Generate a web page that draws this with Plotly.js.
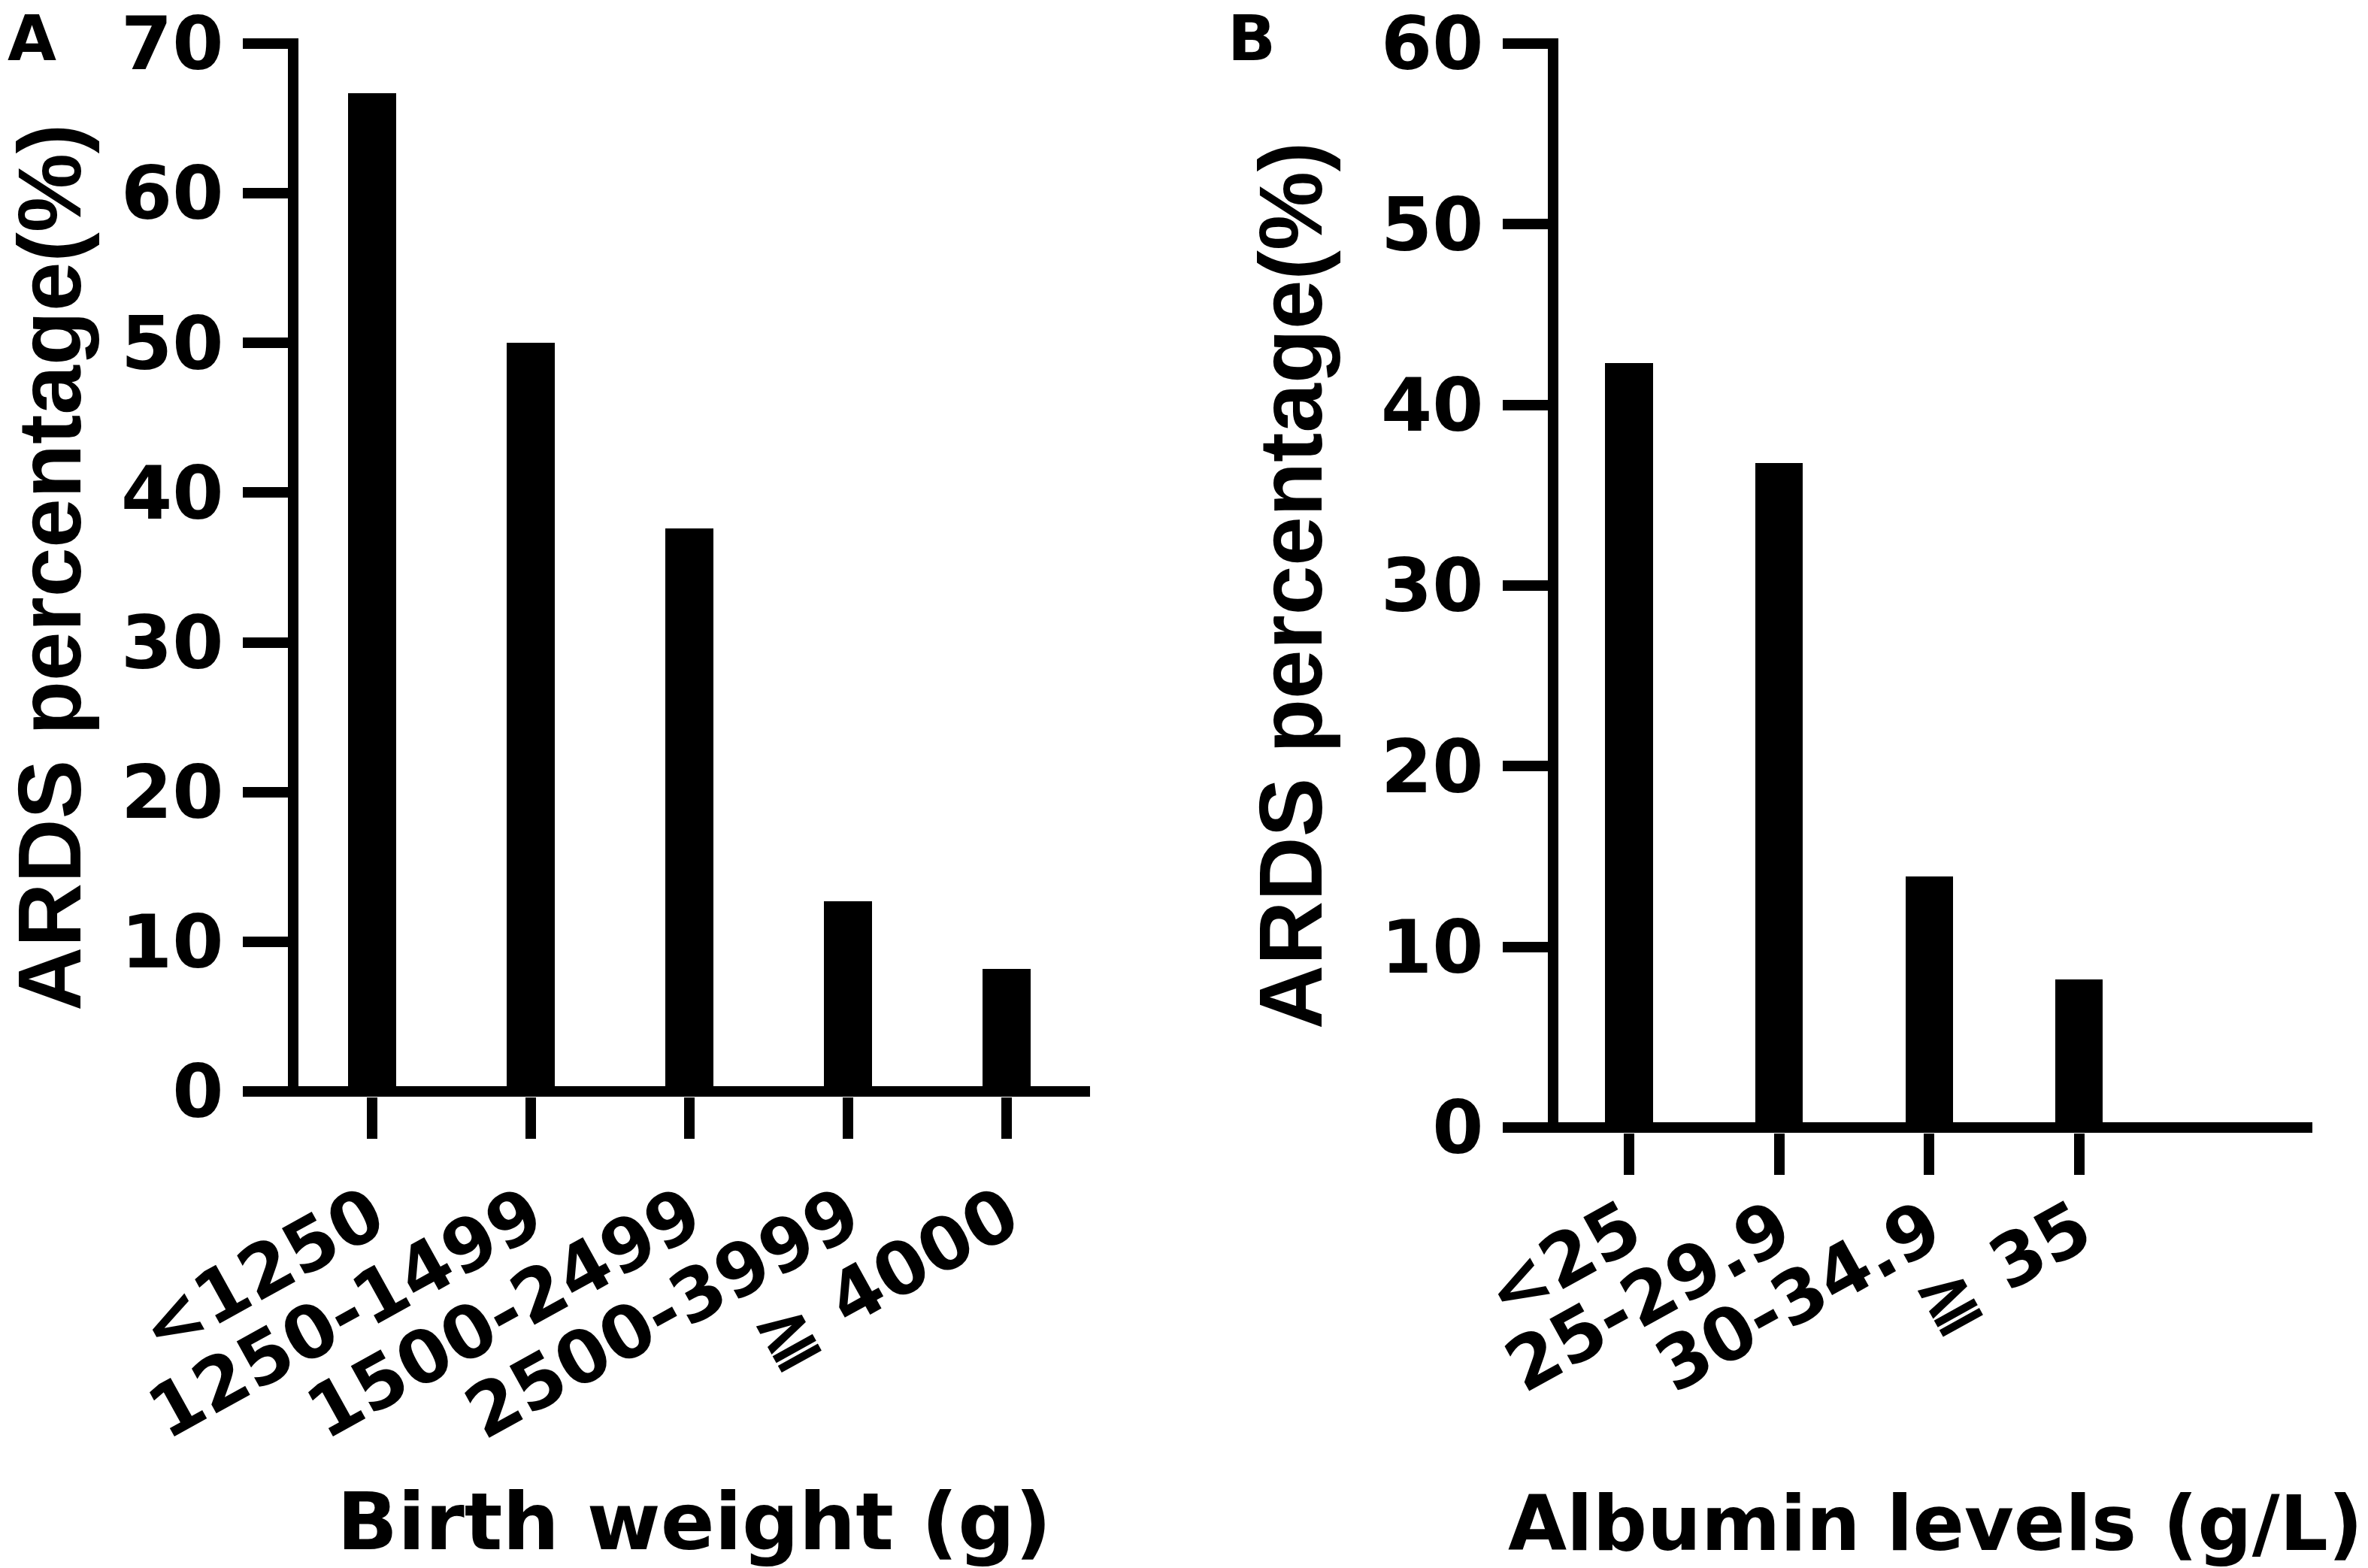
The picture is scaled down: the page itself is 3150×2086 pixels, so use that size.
<!DOCTYPE html>
<html><head><meta charset="utf-8">
<script src="https://cdn.plot.ly/plotly-3.0.1.min.js"></script>
<style>html,body{margin:0;padding:0;background:#fff}</style>
</head><body><div id="chart" style="width:3150px;height:2086px"></div>
<script>
// ---- data ----
const birthWeightCategories = ['<1250', '1250-1499', '1500-2499', '2500-3999', '≧ 4000'];
const birthWeightARDS = [66.7, 50.0, 37.6, 12.7, 8.2];
const albuminCategories = ['<25', '25-29.9', '30-34.9', '≧ 35'];
const albuminARDS = [42.3, 36.8, 13.9, 8.2];
const yTicksA = [0, 10, 20, 30, 40, 50, 60, 70];
const yTicksB = [0, 10, 20, 30, 40, 50, 60];
const yTitle = 'ARDS percentage(%)';
const xTitleA = 'Birth weight (g)';
const xTitleB = 'Albumin levels (g/L)';

// ---- layout helpers (pixel -> paper) ----
const W = 3150, H = 2086;
const px = v => v / W;
const pyA = v => 1 - (v + 6) / H;   // small downward shift keeps top labels inside the canvas
const pyB = v => 1 - (v + 12) / H;

const tickFont = {family: 'DejaVu Sans', size: 98, color: '#000', weight: 'bold'};
const xTickFont = {family: 'DejaVu Sans', size: 97, color: '#000', weight: 'bold'};
const yTitleFont = {family: 'Liberation Sans, Arial, sans-serif', size: 118, color: '#000', weight: 'bold'};
const panelFont = {family: 'DejaVu Sans', size: 84, color: '#000', weight: 'bold'};
const LW = 14;

function yAxis(domain, range, vals, standoff) {
  return {
    domain: domain, range: range, tickvals: vals, ticktext: vals.map(String),
    showline: true, linewidth: LW, linecolor: '#000',
    ticks: 'outside', ticklen: 60, tickwidth: LW, tickcolor: '#000',
    showgrid: false, zeroline: true, zerolinewidth: LW, zerolinecolor: '#000',
    tickfont: tickFont, ticklabelstandoff: 6, ticklabeloverflow: 'allow',
    title: {text: yTitle, font: yTitleFont, standoff: standoff},
    fixedrange: true, automargin: false
  };
}
function xAxis(domain, range, standoff, tstand, title, tsize) {
  return {
    domain: domain, range: range, type: 'category',
    showline: false, ticks: 'outside', ticklen: 55, tickwidth: LW, tickcolor: '#000',
    showgrid: false, zeroline: false, tickangle: -29,
    tickfont: xTickFont, ticklabelstandoff: tstand, ticklabeloverflow: 'allow',
    title: {text: title, font: {family: 'DejaVu Sans', size: tsize, color: '#000', weight: 'bold'}, standoff: standoff},
    fixedrange: true, automargin: false
  };
}

const data = [
  {type: 'bar', x: birthWeightCategories, y: birthWeightARDS, width: 0.3,
   marker: {color: '#000', line: {width: 0}}, xaxis: 'x', yaxis: 'y', hoverinfo: 'none'},
  {type: 'bar', x: albuminCategories, y: albuminARDS, width: 0.316,
   marker: {color: '#000', line: {width: 0}}, xaxis: 'x2', yaxis: 'y2', hoverinfo: 'none'}
];

// panel A: plot left 397, right 1450, top 45, bottom 1453 ; 0 at 1446, 70 at 52
const pxUnitA = (1446 - 52) / 70;
const pxUnitB = (1488 - 46) / 60;

const layout = {
  width: W, height: H, margin: {l: 0, r: 0, t: 0, b: 0},
  paper_bgcolor: '#fff', plot_bgcolor: 'rgba(0,0,0,0)', showlegend: false,
  bargap: 0,
  xaxis: xAxis([px(397), px(1450)], [-0.464, 4.526], 70, 10, xTitleA, 106),
  yaxis: yAxis([pyA(1453), pyA(45)], [-7 / pxUnitA, 70 + 7 / pxUnitA], yTicksA, 45),
  xaxis2: xAxis([px(2073), px(3076)], [-0.471, 4.554], 128, -20, xTitleB, 101),
  yaxis2: yAxis([pyB(1495), pyB(39)], [-7 / pxUnitB, 60 + 7 / pxUnitB], yTicksB, 45),
  annotations: [
    {text: 'A', xref: 'paper', yref: 'paper', x: px(8), y: 1, xanchor: 'left', yanchor: 'top',
     showarrow: false, font: panelFont},
    {text: 'B', xref: 'paper', yref: 'paper', x: px(1631), y: 1, xanchor: 'left', yanchor: 'top',
     showarrow: false, font: panelFont}
  ]
};
layout.yaxis2.anchor = 'x2';
layout.xaxis2.anchor = 'y2';
layout.xaxis.anchor = 'y';
layout.yaxis.anchor = 'x';

Plotly.newPlot('chart', data, layout, {displayModeBar: false, staticPlot: true});
</script></body></html>
